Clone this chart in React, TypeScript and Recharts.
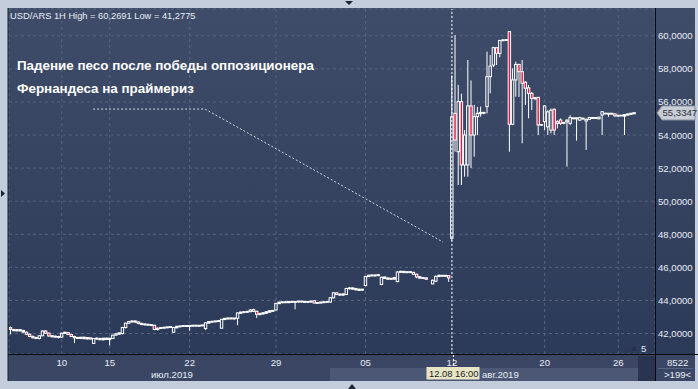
import React from 'react';
import { ComposedChart, Bar, XAxis, YAxis, CartesianGrid, ReferenceLine } from 'recharts';

type Ohlc = [number, number, number, number] | null; // open, high, low, close

// USD/ARS hourly bars
const julWeek1: Ohlc[] = [
  [42.35, 42.42, 41.95, 42.25], [42.22, 42.28, 42.15, 42.18], [42.18, 42.25, 42.12, 42.22], [42.22, 42.26, 42.14, 42.17],
  [42.17, 42.22, 42.05, 42.10], [42.08, 42.12, 41.90, 41.95], [41.95, 42.00, 41.78, 41.82], [41.82, 41.88, 41.70, 41.74],
  [41.74, 41.80, 41.66, 41.72], [41.70, 41.90, 41.64, 41.86], [41.86, 42.20, 41.84, 42.15], [42.15, 42.20, 41.98, 42.02],
  [42.02, 42.05, 41.80, 41.85], [41.85, 41.90, 41.76, 41.82], [41.82, 41.88, 41.75, 41.80], [41.80, 41.86, 41.70, 41.78],
  [41.78, 42.05, 41.76, 42.02], [42.02, 42.10, 41.98, 42.06], [42.06, 42.08, 41.90, 41.94], [41.94, 41.98, 41.78, 41.82],
  [41.82, 41.86, 41.42, 41.74], [41.74, 41.80, 41.66, 41.72], [41.72, 41.78, 41.66, 41.76], [41.76, 41.80, 41.68, 41.70],
  [41.70, 41.76, 41.62, 41.74], [41.74, 41.76, 41.64, 41.66], [41.40, 41.72, 41.36, 41.70], [41.70, 41.76, 41.62, 41.68],
  [41.68, 41.74, 41.60, 41.64], [41.64, 41.72, 41.58, 41.70], [41.70, 41.74, 41.60, 41.66],
];
const julWeek2: Ohlc[] = [
  [41.66, 41.72, 41.28, 41.70], [41.70, 41.92, 41.68, 41.90], [41.90, 42.04, 41.86, 41.98], [41.98, 42.06, 41.92, 42.02],
  [42.00, 42.40, 41.94, 42.36], [42.36, 42.66, 42.30, 42.62], [42.62, 42.76, 42.60, 42.72], [42.72, 42.78, 42.66, 42.74],
  [42.74, 42.78, 42.68, 42.70], [42.70, 42.74, 42.56, 42.60], [42.60, 42.62, 42.50, 42.56], [42.56, 42.60, 42.48, 42.54],
  [42.54, 42.58, 42.48, 42.52], [42.52, 42.56, 42.46, 42.50], [42.50, 42.52, 42.20, 42.24], [42.24, 42.36, 42.18, 42.32],
  [42.32, 42.38, 42.28, 42.34], [42.34, 42.40, 42.30, 42.36], [42.36, 42.42, 42.32, 42.38], [42.38, 42.44, 42.34, 42.40],
  [42.08, 42.40, 42.04, 42.36], [42.36, 42.44, 42.32, 42.42], [42.42, 42.46, 42.38, 42.44], [42.44, 42.50, 42.40, 42.46],
  [42.46, 42.50, 42.40, 42.44],
];
const julWeek3: Ohlc[] = [
  [42.44, 42.50, 42.16, 42.46], [42.46, 42.52, 42.42, 42.48], [42.48, 42.52, 42.42, 42.46], [42.46, 42.50, 42.40, 42.48],
  [42.48, 42.52, 42.44, 42.50], [42.30, 42.68, 42.20, 42.64], [42.64, 42.74, 42.62, 42.70], [42.70, 42.76, 42.66, 42.72],
  [42.72, 42.78, 42.68, 42.74], [42.74, 42.78, 42.70, 42.76], [42.32, 42.88, 42.30, 42.86], [42.86, 42.94, 42.82, 42.90],
  [42.90, 42.96, 42.84, 42.92], [42.92, 42.96, 42.86, 42.90], [42.90, 42.94, 42.84, 42.92], [42.92, 43.28, 42.50, 43.24],
  [43.24, 43.32, 43.20, 43.28], [43.28, 43.34, 43.24, 43.30], [43.30, 43.36, 43.26, 43.32], [43.32, 43.48, 43.28, 43.42],
  [43.44, 43.50, 43.30, 43.34], [43.34, 43.38, 42.94, 43.16], [43.16, 43.24, 43.10, 43.20], [43.20, 43.28, 43.14, 43.24],
  [43.24, 43.32, 43.20, 43.30], [43.30, 43.40, 43.28, 43.36], [43.36, 43.42, 43.32, 43.38],
];
const julWeek4: Ohlc[] = [
  [43.42, 43.86, 43.40, 43.82], [43.82, 43.92, 43.80, 43.88], [43.88, 43.94, 43.82, 43.90], [43.90, 43.94, 43.84, 43.88],
  [43.88, 43.94, 43.84, 43.92], [43.92, 43.96, 43.86, 43.90], [43.90, 43.94, 43.46, 43.92], [43.92, 43.96, 43.86, 43.94],
  [43.94, 43.98, 43.88, 43.92], [43.92, 43.96, 43.86, 43.90], [43.90, 43.94, 43.84, 43.92], [43.92, 43.98, 43.88, 43.94],
  [43.98, 44.00, 43.82, 43.84], [43.84, 43.90, 43.80, 43.86], [43.86, 43.92, 43.82, 43.88], [43.88, 43.94, 43.84, 43.90],
  [43.90, 43.96, 43.86, 43.92], [43.90, 44.20, 43.86, 44.16], [44.16, 44.50, 44.12, 44.46], [44.46, 44.48, 44.32, 44.36],
  [44.36, 44.42, 44.28, 44.34], [44.34, 44.40, 44.28, 44.38], [44.36, 44.76, 44.32, 44.72], [44.72, 44.80, 44.66, 44.74],
  [44.74, 44.78, 44.64, 44.70], [44.70, 44.76, 44.60, 44.66], [44.66, 44.72, 44.58, 44.62], [44.64, 44.70, 44.58, 44.66],
];
const augWeek1: Ohlc[] = [
  [44.90, 45.48, 44.86, 45.44], [45.44, 45.56, 45.42, 45.52], [45.52, 45.58, 45.46, 45.50], [45.50, 45.56, 45.44, 45.52],
  [45.52, 45.56, 45.46, 45.54], [44.96, 45.44, 44.92, 45.40], [45.40, 45.44, 45.30, 45.34], [45.34, 45.38, 45.26, 45.30],
  [45.30, 45.36, 45.24, 45.32], [45.36, 45.42, 45.28, 45.30], [45.14, 45.76, 45.10, 45.72], [45.72, 45.80, 45.66, 45.74],
  [45.74, 45.78, 45.64, 45.70], [45.70, 45.76, 45.64, 45.72], [45.72, 45.78, 45.66, 45.70], [45.70, 45.72, 45.54, 45.58],
  [45.58, 45.62, 45.34, 45.42], [45.42, 45.46, 45.32, 45.36], [45.36, 45.40, 45.30, 45.34], [45.36, 45.40, 45.26, 45.28],
  null, [45.00, 45.26, 44.98, 45.22], [45.16, 45.50, 45.12, 45.46], [45.46, 45.56, 45.42, 45.50],
  [45.50, 45.54, 45.44, 45.48], [45.48, 45.54, 45.42, 45.50], [45.50, 45.52, 45.12, 45.36],
];
const augWeek2: Ohlc[] = [
  [47.76, 57.60, 47.60, 55.11], [55.31, 60.05, 52.99, 53.70], [52.99, 57.03, 50.98, 56.02], [56.02, 56.50, 50.98, 52.19],
  [52.19, 54.30, 51.48, 54.00], [52.19, 58.54, 51.48, 55.76], [55.76, 57.30, 52.00, 54.00], [54.00, 55.82, 52.69, 55.11],
  [55.11, 55.70, 54.00, 55.31], [55.31, 55.72, 55.11, 55.35], [55.35, 55.40, 55.25, 55.33], [55.72, 59.04, 55.31, 57.53],
  [57.53, 58.84, 56.52, 58.17], [58.23, 59.34, 58.10, 59.28], [59.28, 59.30, 58.23, 58.94], [58.94, 59.75, 58.70, 59.72],
  [59.72, 59.78, 59.68, 59.74], [59.74, 59.78, 59.70, 59.75], [60.25, 60.27, 52.99, 54.65], [54.65, 58.03, 54.60, 57.33],
  [57.33, 58.44, 56.32, 58.27], [58.27, 58.30, 56.30, 57.83], [57.83, 58.54, 53.50, 57.13], [57.20, 57.25, 55.82, 56.83],
  [56.85, 57.03, 55.01, 56.52], [56.52, 56.60, 55.51, 56.22], [56.22, 56.30, 56.10, 56.24], [56.28, 56.30, 54.00, 54.61],
  [54.61, 54.66, 54.56, 54.62],
];
const augWeek3: Ohlc[] = [
  [54.81, 55.80, 54.30, 55.76], [54.50, 55.50, 54.00, 55.40], [54.30, 55.60, 54.10, 55.50], [55.56, 55.60, 54.00, 54.30],
  [54.70, 54.90, 54.40, 54.80], [54.91, 55.00, 54.60, 54.71], [54.72, 54.80, 54.65, 54.74], [54.80, 54.95, 52.09, 54.90],
  [54.71, 55.20, 54.60, 55.06], [55.00, 55.05, 54.95, 55.02], [55.00, 55.05, 53.66, 55.02], [54.90, 55.10, 54.85, 55.06],
  [55.00, 55.05, 54.95, 54.98], [54.85, 55.00, 53.10, 54.95], [54.95, 55.10, 54.90, 55.06], [55.04, 55.08, 55.00, 55.02],
  [55.02, 55.06, 54.98, 55.04], [54.98, 55.10, 54.95, 55.08], [55.21, 55.45, 54.00, 55.41], [55.30, 55.35, 55.25, 55.30],
  [55.30, 55.33, 55.10, 55.28], [55.28, 55.32, 55.24, 55.30], [55.28, 55.30, 55.10, 55.16], [55.16, 55.20, 55.12, 55.18],
  [55.18, 55.20, 55.14, 55.17], [55.16, 55.25, 54.00, 55.22], [55.22, 55.28, 55.20, 55.26], [55.26, 55.32, 55.24, 55.30],
  [55.30, 55.36, 55.28, 55.3347],
];

const allBars: Ohlc[] = [...julWeek1, ...julWeek2, ...julWeek3, ...julWeek4, ...augWeek1, ...augWeek2, ...augWeek3];

const SLOTS = 202; // bar slots on screen, the empty ones on the right are the chart shift
const dayTickIdx = [16, 31, 56, 83, 111, 138, 167, 190];
const dayTickLabels = ['10', '15', '22', '29', '05', '12', '20', '26'];
const priceTicks = [42, 44, 46, 48, 50, 52, 54, 56, 58, 60];
const priceDomain: [number, number] = [40.76, 61.62];
const markerBar = 138; // 12.08 16:00
const lastPrice = 55.3347;
// dotted arrow drawn from the caption to the gap bar
const arrowPath = [
  { x: 25.8, y: 55.57 },
  { x: 60.8, y: 55.57 },
  { x: 135.2, y: 47.53 },
];

const data = allBars.map((b, i) =>
  b ? { i, range: [b[2], b[1]], o: b[0], h: b[1], l: b[2], c: b[3] } : { i, range: null }
);

const FONT = '"Liberation Sans", Arial, sans-serif';
const TXT = '#e8edf5';
const RED = '#e3163f';

const Candle = (props: any) => {
  const { x, y, width, height, payload } = props;
  if (!payload || payload.o == null || x == null) return null;
  const { o, h, l, c } = payload;
  const top = Math.min(y, y + height);
  const bot = Math.max(y, y + height);
  const py = (v: number) => (h === l ? top : top + ((h - v) / (h - l)) * (bot - top));
  const cx = x + width / 2;
  const yo = py(o);
  const yc = py(c);
  const bTop = Math.min(yo, yc);
  const bBot = Math.max(yo, yc);
  const flat = bBot - bTop < 1.2;
  return (
    <g>
      <line x1={cx} x2={cx} y1={top} y2={bTop} stroke="#fff" strokeWidth={1} />
      <line x1={cx} x2={cx} y1={bBot} y2={bot} stroke="#fff" strokeWidth={1} />
      {flat ? (
        <rect x={cx - 1.7} y={bTop - 0.8} width={3.4} height={1.6 + bBot - bTop} fill="#fff" />
      ) : (
        <rect x={cx - 1.2} y={bTop} width={2.4} height={bBot - bTop} fill={c < o ? RED : 'none'} stroke="#fff" strokeWidth={1} />
      )}
    </g>
  );
};

const PriceTag = (props: any) => {
  const vb = props.viewBox || {};
  const x = vb.x + vb.width + 2;
  const y = vb.y;
  return (
    <g>
      <polygon
        points={`${x},${y} ${x + 5},${y - 7} ${x + 38},${y - 7} ${x + 38},${y + 7} ${x + 5},${y + 7}`}
        fill="#c9cdd5"
        stroke="#8d95a3"
      />
      <text x={x + 5.5} y={y + 3.5} fontSize={9.6} fontFamily={FONT} fill="#2a2f38">
        {lastPrice.toFixed(4).replace('.', ',')}
      </text>
    </g>
  );
};

const XTick = (props: any) => {
  const { x, payload } = props;
  const k = dayTickIdx.indexOf(payload.value);
  return (
    <text x={x} y={366} textAnchor="middle" fontSize={9.6} fontFamily={FONT} fill={TXT}>
      {k >= 0 ? dayTickLabels[k] : ''}
    </text>
  );
};

const YTick = (props: any) => {
  const { y, payload } = props;
  return (
    <text x={658} y={y + 3.5} fontSize={9.6} fontFamily={FONT} fill={TXT}>
      {Number(payload.value).toFixed(4).replace('.', ',')}
    </text>
  );
};

export default function App() {
  return (
    <div style={{ position: 'fixed', left: 0, top: 0, width: 698, height: 389, background: '#c3cddb', overflow: 'hidden' }}>
      {/* terminal window background */}
      <svg width={698} height={389} style={{ position: 'absolute', left: 0, top: 0 }}>
        <defs>
          <linearGradient id="panel" x1="0" y1="0" x2="0" y2="1">
            <stop offset="0%" stopColor="#3f4c69" />
            <stop offset="100%" stopColor="#2c3a59" />
          </linearGradient>
        </defs>
        <rect x={8} y={8} width={687} height={346} fill="url(#panel)" />
        <rect x={8} y={354} width={687} height={27} fill="#3a4664" />
        <rect x={330} y={368} width={308} height={13} fill="#4b5774" />
        <rect x={638} y={356} width={17} height={25} fill="#2a3451" />
      </svg>

      <div style={{ position: 'absolute', left: 0, top: 0 }}>
        <ComposedChart width={698} height={389} data={data} margin={{ top: 9, right: 0, bottom: 0, left: 9 }}>
          <CartesianGrid stroke="#56647f" strokeDasharray="3 3" />
          <XAxis
            dataKey="i"
            type="number"
            domain={[-0.5, SLOTS - 0.5]}
            ticks={dayTickIdx}
            interval={0}
            height={35}
            axisLine={false}
            tickLine={false}
            tickSize={0}
            tick={<XTick />}
            allowDataOverflow
          />
          <YAxis
            orientation="right"
            domain={priceDomain}
            ticks={priceTicks}
            interval={0}
            width={43}
            axisLine={false}
            tickLine={false}
            tickSize={0}
            tick={<YTick />}
            allowDataOverflow
          />
          <Bar dataKey="range" barSize={3} shape={<Candle />} isAnimationActive={false} />
          <ReferenceLine x={markerBar} stroke="#ffffff" strokeDasharray="2 2" strokeWidth={1} />
          <ReferenceLine segment={[arrowPath[0], arrowPath[1]]} stroke="#d3d7df" strokeDasharray="2 2" ifOverflow="visible" />
          <ReferenceLine segment={[arrowPath[1], arrowPath[2]]} stroke="#d3d7df" strokeDasharray="2 2" ifOverflow="visible" />
          <ReferenceLine y={lastPrice} stroke="none" label={<PriceTag />} />
        </ComposedChart>
      </div>

      <svg width={698} height={389} style={{ position: 'absolute', left: 0, top: 0, pointerEvents: 'none' }}>
        <line x1={8} x2={698} y1={354.5} y2={354.5} stroke="#0a0a0a" />
        <line x1={655.5} x2={655.5} y1={8} y2={381} stroke="#0a0a0a" />
        <line x1={8} x2={8} y1={8} y2={381} stroke="#1b2233" />
        <text x={10} y={18.5} fontSize={9.3} fontFamily={FONT} fill={TXT}>
          USD/ARS 1H High = 60,2691 Low = 41,2775
        </text>
        <text x={17} y={69.5} fontSize={13.4} fontWeight="bold" fontFamily={FONT} fill="#ffffff">
          Падение песо после победы оппозиционера
        </text>
        <text x={17} y={92.5} fontSize={13.4} fontWeight="bold" fontFamily={FONT} fill="#ffffff">
          Фернандеса на праймериз
        </text>
        <text x={151} y={378} fontSize={9.6} fontFamily={FONT} fill={TXT}>июл.2019</text>
        <line x1={453.5} x2={453.5} y1={355} y2={367} stroke="#fff" strokeDasharray="2 2" />
        <rect x={426.5} y={367} width={53} height={12.5} fill="#e8e5c7" />
        <text x={429} y={377.2} fontSize={9.4} fontFamily={FONT} fill="#1a1a1a">12.08 16:00</text>
        <text x={482} y={378} fontSize={9.6} fontFamily={FONT} fill={TXT}>авг.2019</text>
        <text x={667} y={366} fontSize={9.6} fontFamily={FONT} fill={TXT}>8522</text>
        <line x1={658} x2={693} y1={368.5} y2={368.5} stroke="#56647f" />
        <text x={664} y={378} fontSize={9.6} fontFamily={FONT} fill={TXT}>{'>199<'}</text>
        <text x={641} y={352} fontSize={9.6} fontFamily={FONT} fill={TXT}>5</text>
        <polygon points="631,351 637,351 634,346" fill="#26304a" />
        <polygon points="345,1 353,1 349,5" fill="#1d2436" />
        <polygon points="1,190 1,197 5,193.5" fill="#1d2436" />
        <polygon points="348,389 356,389 352,384" fill="#1d2436" />
      </svg>
    </div>
  );
}
